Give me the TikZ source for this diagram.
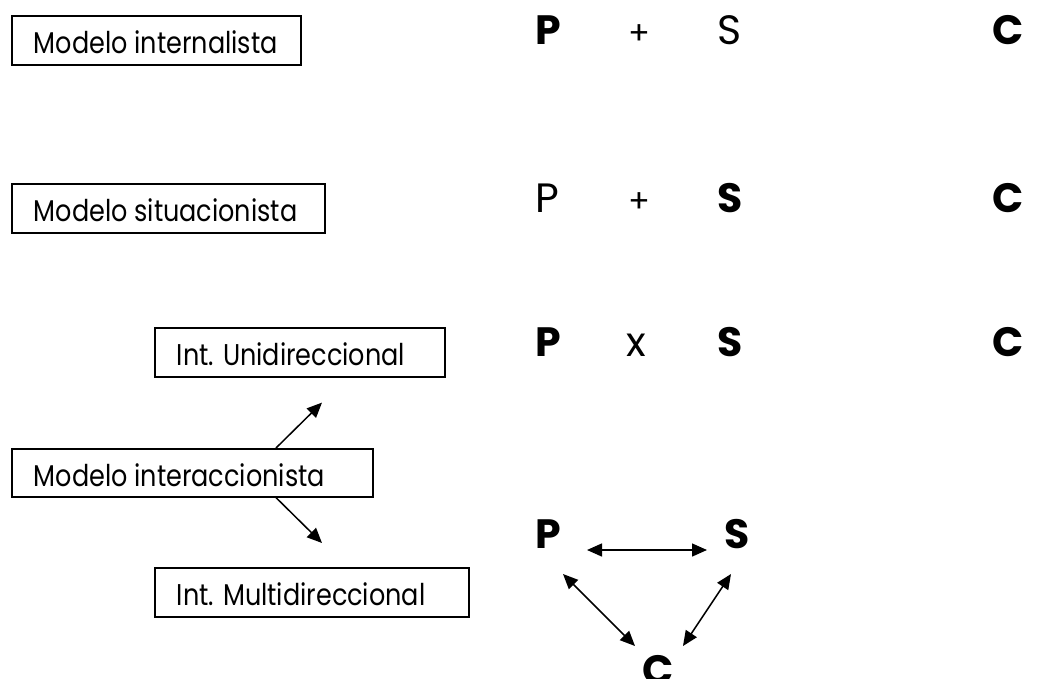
\documentclass[tikz,border=0pt]{standalone}
\usepackage{fontspec}
\setmainfont{Poppins}
\newfontfamily\boxfont{Poppins}[FakeStretch=0.85]
\usetikzlibrary{arrows.meta}
\begin{document}
\begin{tikzpicture}[x=1pt,y=-1pt,
  modelbox/.style={draw, line width=1.6pt, anchor=north west,
    inner xsep=0pt, inner ysep=0pt, minimum height=49pt,
    text height=27pt, text depth=0pt, font=\boxfont\fontsize{30}{34}\selectfont},
  letter/.style={anchor=base west, inner sep=0pt, font=\fontsize{41}{44}\selectfont},
  bletter/.style={letter, font=\fontsize{41}{44}\selectfont\bfseries},
  op/.style={anchor=base west, inner sep=0pt, font=\fontsize{32}{36}\selectfont},
  arr/.style={line width=1.5pt, -{Triangle[length=15pt,width=13pt]}},
  biarr/.style={line width=1.5pt, {Triangle[length=15pt,width=13pt]}-{Triangle[length=15pt,width=13pt]}}
]
\useasboundingbox (0,0) rectangle (1041,678);

% boxes
\node[modelbox] (mint) at (11,15) {\makebox[289pt][l]{\hspace{22pt}Modelo internalista}};
\node[modelbox] (msit) at (11,183) {\makebox[313pt][l]{\hspace{22pt}Modelo situacionista}};
\node[modelbox] (iuni) at (154,327) {\makebox[290pt][l]{\hspace{22pt}Int. Unidireccional}};
\node[modelbox, minimum height=48pt] (mintr) at (11,448) {\makebox[361pt][l]{\hspace{22pt}Modelo interaccionista}};
\node[modelbox] (imul) at (154,567) {\makebox[314pt][l]{\hspace{22pt}Int. Multidireccional}};

% row 1
\node[bletter] (p1) at (535,44) {P};
\node[op] (o1) at (628,44) {+};
\node[letter] (s1) at (717,44) {S};
\node[bletter] (c1) at (992,44) {C};
% row 2
\node[letter] (p2) at (535,212) {P};
\node[op] (o2) at (628,212) {+};
\node[bletter] (s2) at (717,212) {S};
\node[bletter] (c2) at (992,212) {C};
% row 3
\node[bletter] (p3) at (535,356) {P};
\node[letter] (o3) at (626,356) {x};
\node[bletter] (s3) at (717,356) {S};
\node[bletter] (c3) at (992,356) {C};
% triangle
\node[bletter] (tp) at (535,548) {P};
\node[bletter] (ts) at (724,548) {S};
\node[bletter] (tc) at (642,684) {C};

% arrows from interaccionista
\draw[arr] ([xshift=265pt]mintr.north west) -- ([xshift=168pt,yshift=-25pt]iuni.south west);
\draw[arr] ([xshift=265pt]mintr.south west) -- ([xshift=168pt,yshift=24pt]imul.north west);

% triangle arrows
\draw[biarr] ([xshift=52pt,yshift=-2pt]tp.base west) -- ([xshift=-17pt,yshift=-2pt]ts.base west);
\draw[biarr] ([xshift=28pt,yshift=-26pt]tp.base west) -- ([xshift=-7pt,yshift=38pt]tc.base west);
\draw[biarr] ([xshift=7pt,yshift=-26pt]ts.base west) -- ([xshift=41pt,yshift=38pt]tc.base west);
\end{tikzpicture}
\end{document}
